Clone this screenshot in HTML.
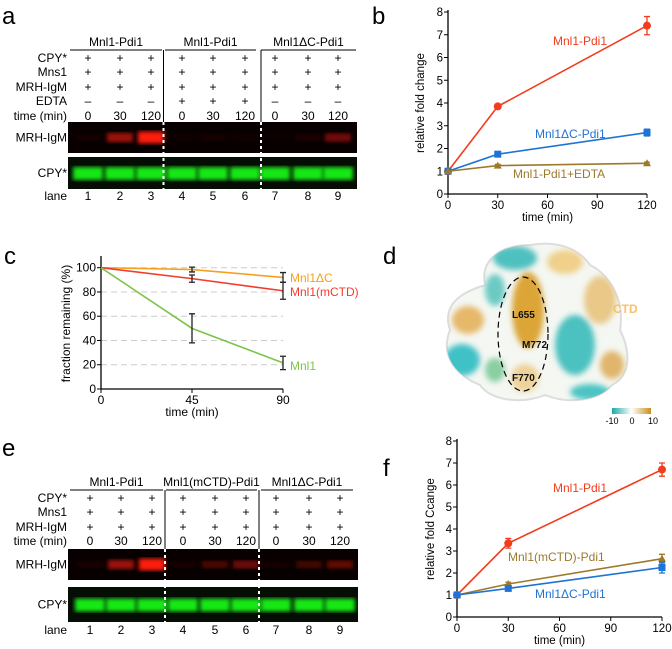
<!DOCTYPE html>
<html><head><meta charset="utf-8"><style>
body{margin:0;background:#fff}
svg{display:block;font-family:"Liberation Sans",sans-serif}
</style></head><body>
<svg id="fig" width="672" height="649" viewBox="0 0 672 649" xmlns="http://www.w3.org/2000/svg">
<defs>
<filter id="blur2"><feGaussianBlur stdDeviation="2"/></filter>
<filter id="blur3"><feGaussianBlur stdDeviation="3"/></filter>
<linearGradient id="cbar" x1="0" x2="1"><stop offset="0" stop-color="#1aa9a9"/><stop offset="0.5" stop-color="#ffffff"/><stop offset="1" stop-color="#c8901a"/></linearGradient>
<clipPath id="blobclip"><path d="M450,330 C440,300 470,290 485,285 C480,260 500,245 530,245 C560,240 580,250 590,265 C610,275 625,300 620,330 C630,350 632,375 612,385 C600,400 570,405 545,395 C520,405 490,400 480,385 C455,375 440,355 450,330 Z"/></clipPath>
</defs>
<g font-size="24" fill="#000">
<text x="2" y="24">a</text>
<text x="372" y="24">b</text>
<text x="4" y="264">c</text>
<text x="383" y="264">d</text>
<text x="2" y="456">e</text>
<text x="383" y="476">f</text>
</g>
<g id="gelA"></g>
<g id="gelE"></g>
<g id="chartB"></g>
<g id="chartC"></g>
<g id="chartF"></g>
<g>
<path d="M450,330 C440,300 470,290 485,285 C480,260 500,245 530,245 C560,240 580,250 590,265 C610,275 625,300 620,330 C630,350 632,375 612,385 C600,400 570,405 545,395 C520,405 490,400 480,385 C455,375 440,355 450,330 Z" fill="#f4f7f2" stroke="#ddd" stroke-width="2"/>
<g clip-path="url(#blobclip)"><g filter="url(#blur3)">
<ellipse cx="468" cy="320" rx="16" ry="14" fill="#e6b86a"/>
<ellipse cx="462" cy="360" rx="18" ry="16" fill="#3fc1c6"/>
<ellipse cx="515" cy="258" rx="22" ry="12" fill="#4fc0c0"/>
<ellipse cx="565" cy="262" rx="18" ry="12" fill="#f0d08a"/>
<ellipse cx="600" cy="300" rx="16" ry="24" fill="#e9c888"/>
<ellipse cx="528" cy="310" rx="16" ry="38" fill="#dca538"/>
<ellipse cx="575" cy="345" rx="20" ry="30" fill="#4cc1c0"/>
<ellipse cx="612" cy="365" rx="12" ry="14" fill="#e0b66c"/>
<ellipse cx="590" cy="392" rx="20" ry="8" fill="#4cc4c3"/>
<ellipse cx="525" cy="378" rx="14" ry="14" fill="#eed29a"/>
<ellipse cx="495" cy="370" rx="10" ry="12" fill="#89cfa0"/>
<ellipse cx="495" cy="290" rx="10" ry="16" fill="#6ccac4"/>
</g></g>
<ellipse cx="523" cy="334" rx="25" ry="57" fill="none" stroke="#000" stroke-width="1.2" stroke-dasharray="6,4"/>
<g font-size="10" font-weight="bold" fill="#111">
<text x="512" y="318">L655</text>
<text x="522" y="348">M772</text>
<text x="512" y="381">F770</text>
</g>
<text x="613" y="313" font-size="12" font-weight="bold" fill="#f5c16a">CTD</text>
<rect x="612" y="408" width="39" height="6" fill="url(#cbar)"/>
<g font-size="9" fill="#000" text-anchor="middle">
<text x="612" y="424">-10</text>
<text x="632" y="424">0</text>
<text x="653" y="424">10</text>
</g>
</g>
</svg>
<script>
const NS="http://www.w3.org/2000/svg";
function mk(p,tag,attrs,txt){const e=document.createElementNS(NS,tag);for(const k in attrs)e.setAttribute(k,attrs[k]);if(txt!==undefined)e.textContent=txt;p.appendChild(e);return e;}

// ---------- chart data ----------
const timesB=[0,30,120];
const bMnlPdi=[1,3.85,7.4];const bMnlPdiErr=[0,0.08,0.4];
const bDeltaC=[1,1.75,2.7];const bDeltaCErr=[0,0.08,0.15];
const bEdta=[1,1.25,1.35];const bEdtaErr=[0,0.05,0.05];
const yTicksB=[0,1,2,3,4,5,6,7,8];
const xTicksB=[0,30,60,90,120];

const timesC=[0,45,90];
const cDeltaC=[100,98.5,92];const cDeltaCErr=[0,2,4];
const cMCTD=[100,91,81];const cMCTDErr=[0,3,7];
const cMnl1=[100,50,21.5];const cMnl1Err=[0,12,5.5];
const yTicksC=[0,20,40,60,80,100];
const xTicksC=[0,45,90];

const timesF=[0,30,120];
const fMnlPdi=[1,3.35,6.7];const fMnlPdiErr=[0,0.22,0.3];
const fMCTD=[1,1.5,2.65];const fMCTDErr=[0,0.08,0.2];
const fDeltaC=[1,1.3,2.25];const fDeltaCErr=[0,0.08,0.25];
const yTicksF=[0,1,2,3,4,5,6,7,8];
const xTicksF=[0,30,60,90,120];

function lineChart(g,o){
  const xs=v=>o.x0+(v-o.xmin)/(o.xmax-o.xmin)*(o.x1-o.x0);
  const ys=v=>o.y0-(v-o.ymin)/(o.ymax-o.ymin)*(o.y0-o.y1);
  if(o.grid){o.grid.forEach(t=>{const l=mk(g,'line',{x1:o.x0,x2:xs(o.xmax),y1:ys(t),y2:ys(t),stroke:'#ccc','stroke-dasharray':'6,4'});
    
    });}
  const ax=mk(g,'path',{d:`M${o.x0},${o.y1-2}V${o.y0}H${o.x1}`,fill:'none',stroke:'#000','stroke-width':1.3});
  
  
  o.yt.forEach(t=>{mk(g,'line',{x1:o.x0-4,x2:o.x0,y1:ys(t),y2:ys(t),stroke:'#000'});
    const tx=mk(g,'text',{x:o.x0-5,y:ys(t)+4,'font-size':o.fs,'text-anchor':'end'},t);
    
    });
  o.xt.forEach(t=>{mk(g,'line',{x1:xs(t),x2:xs(t),y1:o.y0,y2:o.y0+4,stroke:'#000'});
    const tx=mk(g,'text',{x:xs(t),y:o.y0+15,'font-size':o.fs,'text-anchor':'middle'},t);
    
    });
  const xl=mk(g,'text',{x:(o.x0+o.x1)/2,y:o.y0+27,'font-size':o.fs,'text-anchor':'middle'},'time (min)');
  
  
  const yc=(o.y0+o.y1)/2;
  const yl=mk(g,'text',{x:o.ylx,y:yc,'font-size':o.fs,'text-anchor':'middle',transform:`rotate(-90 ${o.ylx} ${yc})`},o.ylab);
  
  
  o.series.forEach(s=>{
    const pts=s.v.map((v,i)=>[xs(s.t[i]),ys(v)]);
    const pl=mk(g,'polyline',{points:pts.map(p=>p.join(',')).join(' '),fill:'none',stroke:s.c,'stroke-width':1.6});
    
    
    s.v.forEach((v,i)=>{const e=s.e[i];const x=pts[i][0];const ec=s.ec||s.c;
      if(e>0){mk(g,'path',{d:`M${x-3},${ys(v+e)}H${x+3}M${x},${ys(v+e)}V${ys(v-e)}M${x-3},${ys(v-e)}H${x+3}`,stroke:ec,'stroke-width':1.3,fill:'none'});}
      let m;
      if(s.m==='circle')m=mk(g,'circle',{cx:x,cy:pts[i][1],r:4,fill:s.c});
      else if(s.m==='square')m=mk(g,'rect',{x:x-3.5,y:pts[i][1]-3.5,width:7,height:7,fill:s.c});
      else if(s.m==='tri')m=mk(g,'path',{d:`M${x},${pts[i][1]-4}L${x+4},${pts[i][1]+3}L${x-4},${pts[i][1]+3}Z`,fill:s.c});
      if(m){
        }
    });
    const lb=mk(g,'text',{x:s.lx,y:s.ly,'font-size':o.lfs,fill:s.c},s.label);
    
    
  });
}

lineChart(document.getElementById('chartB'),{x0:448,x1:647,y0:194,y1:12,xmin:0,xmax:120,ymin:0,ymax:8,yt:yTicksB,xt:xTicksB,fs:11.5,lfs:12,ylx:424,ylab:'relative fold change',
 series:[
  {name:'mnl1-pdi1',t:timesB,v:bMnlPdi,e:bMnlPdiErr,c:'#f23c1c',m:'circle',label:'Mnl1-Pdi1',lx:553,ly:45},
  {name:'mnl1-deltac-pdi1',t:timesB,v:bDeltaC,e:bDeltaCErr,c:'#1e73d6',m:'square',label:'Mnl1ΔC-Pdi1',lx:535,ly:138},
  {name:'mnl1-pdi1-edta',t:timesB,v:bEdta,e:bEdtaErr,c:'#9c7a2a',m:'tri',label:'Mnl1-Pdi1+EDTA',lx:513,ly:178}]});

lineChart(document.getElementById('chartC'),{x0:101,x1:283,y0:389,y1:258,xmin:0,xmax:90,ymin:0,ymax:108,yt:yTicksC,xt:xTicksC,fs:12,lfs:12,ylx:70,ylab:'fraction remaining (%)',grid:[20,40,60,80,100],
 series:[
  {name:'mnl1-deltac',t:timesC,v:cDeltaC,e:cDeltaCErr,c:'#f6a020',ec:'#222',m:'none',label:'Mnl1ΔC',lx:290,ly:282},
  {name:'mnl1-mctd',t:timesC,v:cMCTD,e:cMCTDErr,c:'#f23c2c',ec:'#222',m:'none',label:'Mnl1(mCTD)',lx:290,ly:296},
  {name:'mnl1',t:timesC,v:cMnl1,e:cMnl1Err,c:'#7cc44a',ec:'#222',m:'none',label:'Mnl1',lx:290,ly:370}]});

lineChart(document.getElementById('chartF'),{x0:457,x1:662,y0:617,y1:441,xmin:0,xmax:120,ymin:0,ymax:8,yt:yTicksF,xt:xTicksF,fs:11.5,lfs:12,ylx:434,ylab:'relative fold Ccange',
 series:[
  {name:'mnl1-pdi1',t:timesF,v:fMnlPdi,e:fMnlPdiErr,c:'#f23c1c',m:'circle',label:'Mnl1-Pdi1',lx:553,ly:492},
  {name:'mnl1-mctd-pdi1',t:timesF,v:fMCTD,e:fMCTDErr,c:'#9c7a2a',m:'tri',label:'Mnl1(mCTD)-Pdi1',lx:508,ly:561},
  {name:'mnl1-deltac-pdi1',t:timesF,v:fDeltaC,e:fDeltaCErr,c:'#1e73d6',m:'square',label:'Mnl1ΔC-Pdi1',lx:535,ly:598}]});

// ---------- gels ----------
const lanesA=[88,120,151,182,213,245,275,308,338];
const lanesE=[90,121,152,183,215,246,276,309,340];
const redA=[0.05,0.55,1,0.03,0.06,0.03,0.02,0.08,0.4];
const redE=[0.08,0.55,1,0.06,0.25,0.38,0.05,0.22,0.35];
function gel(g,o){
  o.groups.forEach(gr=>{
    mk(g,'line',{x1:gr[0],x2:gr[1],y1:o.gy,y2:o.gy,stroke:'#000'});
    const t=mk(g,'text',{x:(gr[0]+gr[1])/2,y:o.gy-4,'font-size':12,'text-anchor':'middle'},gr[2]);
    
    });
  o.seps.forEach(x=>mk(g,'line',{x1:x,x2:x,y1:o.gy,y2:o.redY,stroke:'#000'}));
  o.rows.forEach((r,ri)=>{const y=o.ry[ri];
    const l=mk(g,'text',{x:67,y:y,'font-size':12,'text-anchor':'end'},r[0]);
    
    
    r[1].forEach((v,i)=>mk(g,'text',{x:o.lanes[i],y:y,'font-size':12,'text-anchor':'middle'},v));});
  mk(g,'rect',{x:o.gx0,y:o.redY,width:o.gx1-o.gx0,height:o.redH,fill:'#080000'});
  mk(g,'rect',{x:o.gx0,y:o.grY,width:o.gx1-o.gx0,height:o.grH,fill:'#050d05'});
  o.lanes.forEach((x,i)=>{
    const a=o.red[i];
    mk(g,'rect',{x:x-13,y:o.redY+o.redH/2-3-a*3,width:26,height:6+a*6,fill:'#ff1a10','fill-opacity':Math.min(1,a*1.1),filter:'url(#blur2)'});
    mk(g,'rect',{x:x-15,y:o.grY+o.grH/2-6,width:30,height:13,fill:'#18e818',filter:'url(#blur2)'});});
  o.seps.forEach(x=>mk(g,'line',{x1:x,x2:x,y1:o.redY,y2:o.grY+o.grH,stroke:'#fff','stroke-width':2,'stroke-dasharray':'3,3'}));
  mk(g,'text',{x:67,y:o.redY+o.redH/2+4,'font-size':12,'text-anchor':'end'},'MRH-IgM');
  mk(g,'text',{x:67,y:o.grY+o.grH/2+4,'font-size':12,'text-anchor':'end'},'CPY*');
  mk(g,'text',{x:67,y:o.laneY,'font-size':12,'text-anchor':'end'},'lane');
  o.lanes.forEach((x,i)=>mk(g,'text',{x:x,y:o.laneY,'font-size':12,'text-anchor':'middle'},i+1));
}
const P=['+','+','+','+','+','+','+','+','+'];
const T=['0','30','120','0','30','120','0','30','120'];
gel(document.getElementById('gelA'),{lanes:lanesA,red:redA,gy:50,
 groups:[[70,162,'Mnl1-Pdi1'],[165,256,'Mnl1-Pdi1'],[261,356,'Mnl1ΔC-Pdi1']],seps:[163.5,261],
 rows:[['CPY*',P],['Mns1',P],['MRH-IgM',P],['EDTA',['–','–','–','+','+','+','–','–','–']],['time (min)',T]],
 ry:[62,76,91,105,120],gx0:68,gx1:357,redY:122,redH:31,grY:157,grH:32,laneY:200});
gel(document.getElementById('gelE'),{lanes:lanesE,red:redE,gy:490,
 groups:[[70,163,'Mnl1-Pdi1'],[166,257,'Mnl1(mCTD)-Pdi1'],[261,353,'Mnl1ΔC-Pdi1']],seps:[165,259],
 rows:[['CPY*',P],['Mns1',P],['MRH-IgM',P],['time (min)',T]],
 ry:[502,516,531,545],gx0:68,gx1:358,redY:549,redH:31,grY:587,grH:35,laneY:634});
</script>
</body></html>
